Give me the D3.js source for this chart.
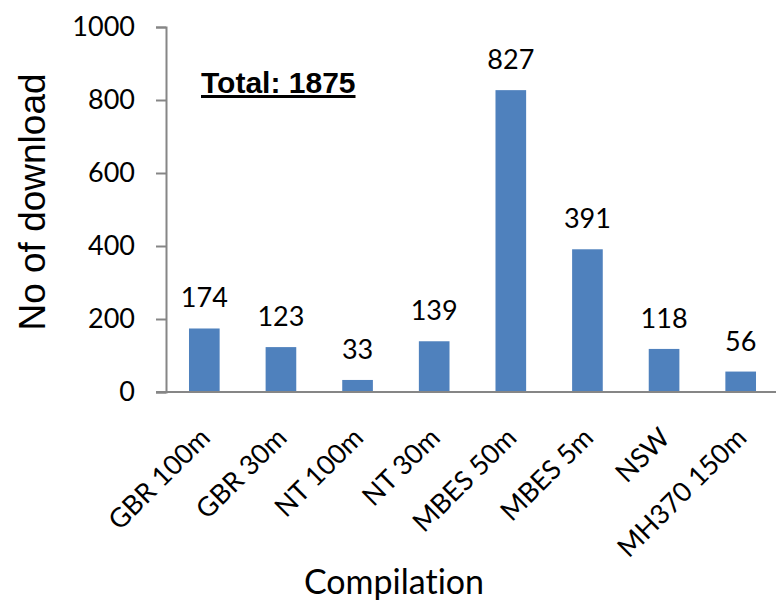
<!DOCTYPE html>
<html>
<head>
<meta charset="utf-8">
<script src="https://cdn.jsdelivr.net/npm/d3@7"></script>
<style>
  html, body { margin: 0; padding: 0; background: #fff; }
  svg { display: block; }
  text { font-variant-ligatures: none; font-feature-settings: "liga" 0; }
</style>
</head>
<body>
<svg id="chart" width="776" height="601"></svg>
<script>
// Downloads per bathymetry compilation
const categories = ["GBR 100m", "GBR 30m", "NT 100m", "NT 30m", "MBES 50m", "MBES 5m", "NSW", "MH370 150m"];
const downloads = [174, 123, 33, 139, 827, 391, 118, 56];
const yTicks = [0, 200, 400, 600, 800, 1000];
const totalLabel = "Total: 1875";

const svg = d3.select("#chart");
const labelFont = "Lato, 'Open Sans', sans-serif";
const axisGrey = "#868686";

const x = d3.scaleBand()
  .domain(categories)
  .range([166, 779])
  .paddingInner(0.6)
  .paddingOuter(0.3);

const y = d3.scaleLinear()
  .domain([0, 1000])
  .range([392, 27]);

// Bars
svg.append("g")
  .selectAll("rect")
  .data(categories)
  .join("rect")
  .attr("x", d => x(d))
  .attr("width", x.bandwidth())
  .attr("y", (d, i) => y(downloads[i]))
  .attr("height", (d, i) => y(0) - y(downloads[i]))
  .attr("fill", "#4F81BD");

// Value labels
svg.append("g")
  .selectAll("text")
  .data(categories)
  .join("text")
  .attr("x", d => x(d) + x.bandwidth() / 2)
  .attr("y", (d, i) => y(downloads[i]) - 21)
  .attr("text-anchor", "middle")
  .attr("font-family", labelFont)
  .attr("font-size", 27)
  .attr("fill", "#000")
  .text((d, i) => downloads[i]);

// Y axis
const yAxis = svg.append("g")
  .attr("transform", `translate(${166},0)`)
  .call(d3.axisLeft(y).tickValues(yTicks).tickFormat(d3.format("d")).tickSize(10).tickPadding(21));
yAxis.select(".domain").attr("stroke", axisGrey).attr("stroke-width", 2);
yAxis.selectAll(".tick line").attr("stroke", axisGrey).attr("stroke-width", 2);
yAxis.selectAll(".tick text")
  .attr("font-family", labelFont)
  .attr("font-size", 27)
  .attr("fill", "#000");

// X axis
const xAxis = svg.append("g")
  .attr("transform", `translate(0,${y(0)})`)
  .call(d3.axisBottom(x).tickSize(0).tickPadding(0));
xAxis.select(".domain").remove();
xAxis.append("line")
  .attr("x1", 156).attr("x2", 776)
  .attr("stroke", axisGrey).attr("stroke-width", 2);
xAxis.selectAll(".tick text")
  .attr("font-family", labelFont)
  .attr("font-size", 27)
  .attr("fill", "#000")
  .attr("text-anchor", "end")
  .attr("dominant-baseline", "central")
  .attr("dy", null)
  .attr("y", 0)
  .attr("transform", "translate(0,40) rotate(-45)");

// Axis titles
svg.append("text")
  .attr("transform", "translate(45,202) rotate(-90)")
  .attr("text-anchor", "middle")
  .attr("font-family", "'Liberation Sans', Arial, sans-serif")
  .attr("font-size", 37)
  .attr("fill", "#000")
  .text("No of download");

svg.append("text")
  .attr("x", 394)
  .attr("y", 594)
  .attr("text-anchor", "middle")
  .attr("font-family", labelFont)
  .attr("font-size", 34)
  .attr("fill", "#000")
  .text("Compilation");

// Total annotation
svg.append("text")
  .attr("x", 201)
  .attr("y", 93)
  .attr("font-family", "'Liberation Sans', Arial, sans-serif")
  .attr("font-weight", "bold")
  .attr("font-size", 30)
  .attr("text-decoration", "underline")
  .attr("fill", "#000")
  .text(totalLabel);
</script>
</body>
</html>
